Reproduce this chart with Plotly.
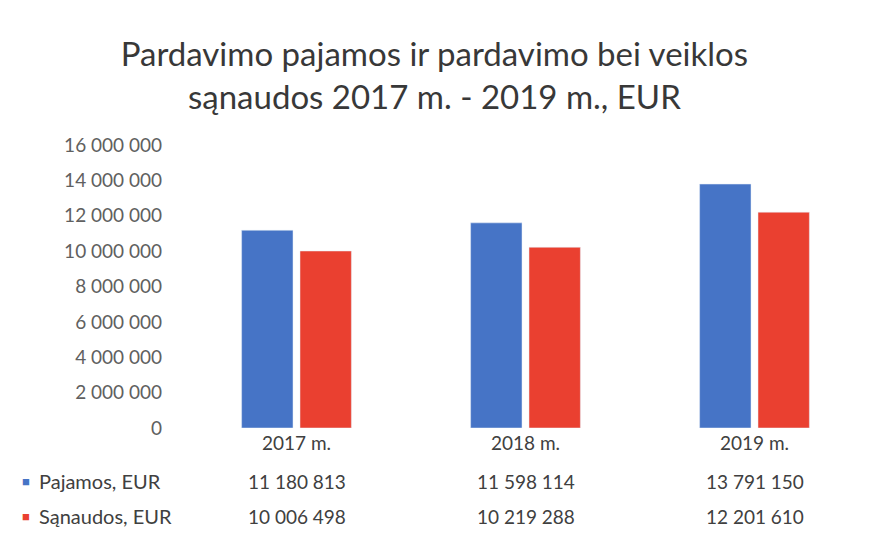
import plotly.graph_objects as go

years = ['2017 m.', '2018 m.', '2019 m.']
pajamos = [11180813, 11598114, 13791150]
sanaudos = [10006498, 10219288, 12201610]
series_names = ['Pajamos, EUR', 'Sąnaudos, EUR']
title_lines = ['Pardavimo pajamos ir pardavimo bei veiklos', 'sąnaudos 2017 m. - 2019 m., EUR']

BLUE = '#4674C6'
RED = '#EA4030'
FONT = 'Lato, Calibri, sans-serif'

# page body has an 8px margin, so the figure is a bit smaller than the window
W, H = 872, 537
L, R, T, B = 174, 11, 137, 117


def fmt(v):
    return f'{v:,}'.replace(',', ' ')


fig = go.Figure()
fig.add_trace(go.Bar(x=years, y=pajamos, name=series_names[0], marker_color=BLUE))
fig.add_trace(go.Bar(x=years, y=sanaudos, name=series_names[1], marker_color=RED))

fig.update_layout(
    width=W, height=H,
    margin=dict(l=L, r=R, t=T, b=B),
    plot_bgcolor='white', paper_bgcolor='white',
    barmode='group', bargap=0.49, bargroupgap=0.12,
    showlegend=False,
    separators='. ',
    font=dict(family=FONT, color='#595959'),
    title=dict(
        text='<br>'.join(title_lines),
        xref='container', x=0.489, xanchor='center',
        yref='container', y=1 - 58 / H, yanchor='middle',
        font=dict(size=33, color='#383838', family=FONT),
    ),
)
fig.update_xaxes(showgrid=False, showline=False, ticks='', ticklabelstandoff=2,
                 tickfont=dict(size=19, color='#404040'))
fig.update_yaxes(
    range=[0, 16000000], dtick=2000000, tickformat=',d',
    showgrid=False, zeroline=False, showline=False,
    tickfont=dict(size=19, color='#606060'), ticklabelstandoff=19,
)

# data table under the chart
plot_w = W - L - R
plot_h = H - T - B
rows = [(series_names[0], BLUE, pajamos, 473), (series_names[1], RED, sanaudos, 508)]
for name, color, vals, ypx in rows:
    ypos = (H - B - ypx) / plot_h
    fig.add_annotation(xref='paper', yref='paper', x=(17.5 - L) / plot_w, y=ypos,
                       xanchor='center', yanchor='middle', text='■', showarrow=False,
                       font=dict(size=13, color=color))
    fig.add_annotation(xref='paper', yref='paper', x=(29 - L) / plot_w, y=ypos,
                       xanchor='left', yanchor='middle', text=name, showarrow=False,
                       font=dict(size=20, color='#404040'))
    for yr, v in zip(years, vals):
        fig.add_annotation(xref='x', yref='paper', x=yr, y=ypos, xanchor='center', yanchor='middle',
                           text=fmt(v), showarrow=False, font=dict(size=19, color='#404040'))

fig.write_html('out.html')
